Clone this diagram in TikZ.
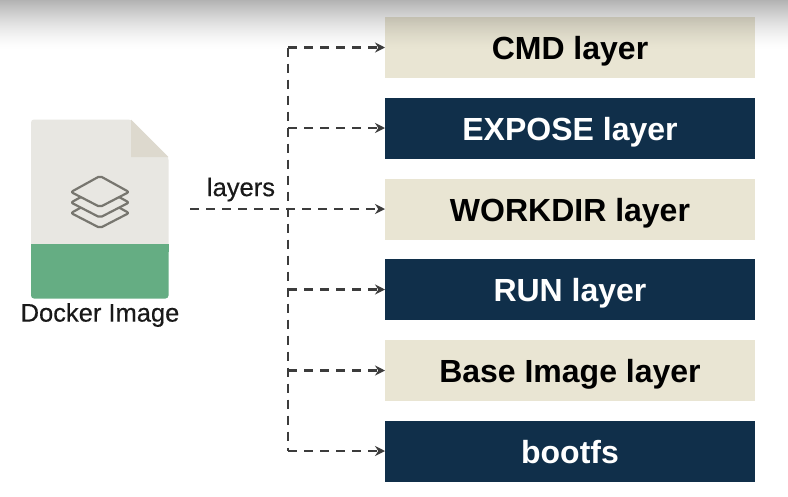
\documentclass[tikz,border=0pt]{standalone}
\usepackage{fontspec}
\setmainfont{Liberation Sans}
\newfontfamily\semibold[FakeBold=0.4]{Liberation Sans}
\usetikzlibrary{arrows.meta}
\definecolor{cream}{HTML}{E9E5D3}
\definecolor{navy}{HTML}{102F4A}
\definecolor{paper}{HTML}{E8E7E2}
\definecolor{foldc}{HTML}{DDD9CE}
\definecolor{greenc}{HTML}{65AD83}
\definecolor{linec}{HTML}{3C3C3C}
\definecolor{iconc}{HTML}{77766F}
\tikzset{
  x=1pt,y=-1pt,
  layerbox/.style={minimum width=370pt,minimum height=61pt,inner sep=0pt,outer sep=0pt,text height=24pt,text depth=0pt,font=\fontsize{32}{34}\selectfont\bfseries},
  lightbox/.style={layerbox,fill=cream,text=black},
  darkbox/.style={layerbox,fill=navy,text=white},
  conn/.style={draw=linec,line width=2.2pt,dash pattern=on 9pt off 7pt},
  connarrow/.style={conn,-{Stealth[length=10pt,width=10pt]}},
  iconline/.style={draw=iconc,line width=2.2pt,line join=round,fill=paper},
  lbl/.style={inner sep=0pt,text=black!90,font=\semibold\fontsize{25.5}{27}\selectfont}
}
\begin{document}
\begin{tikzpicture}
\useasboundingbox (0,0) rectangle (788,496);
\fill[white] (0,0) rectangle (788,496);
% layer boxes
\node[lightbox] (cmd) at (570,47.5) {CMD layer};
\node[darkbox] (expose) at (570,128) {EXPOSE layer};
\node[lightbox] (workdir) at (570,209) {WORKDIR layer};
\node[darkbox] (run) at (570,289.5) {RUN layer};
\node[lightbox] (base) at (570,370.5) {Base Image layer};
\node[darkbox] (bootfs) at (570,451) {bootfs};
% top shade
\foreach \k in {0,...,49}
  \fill[black,opacity={0.30*pow(1-\k/50,1.5)}] (0,\k) rectangle (788,\k+1.05);
% document icon
\fill[paper,rounded corners=3pt] (31,119.5) -- (131,119.5) -- (168.5,157) -- (168.5,250) -- (31,250) -- cycle;
\fill[foldc] (131,119.5) -- (168.5,157) -- (131,157) -- cycle;
\fill[greenc,rounded corners=3pt] (31,244) -- (168.5,244) -- (168.5,298.5) -- (31,298.5) -- cycle;
\fill[greenc] (31,244) rectangle (168.5,252);
% stack glyph
\foreach \dy in {21,10.5,0}
  \draw[iconline,rounded corners=2pt] (100,176+\dy) -- (129,192+\dy) -- (100,207+\dy) -- (71,192+\dy) -- cycle;
% labels
\node[lbl] (dockerlabel) at (100,315) {Docker Image};
\node[lbl] (layerslabel) at (241,189.5) {layers};
% connectors
\coordinate (source) at (190,209);
\coordinate (trunktop) at (288,47.5);
\coordinate (trunkbottom) at (288,451);
\coordinate (j2) at (288,128);
\coordinate (j4) at (288,289.5);
\coordinate (j5) at (288,370.5);
\draw[conn] (trunktop) -- (trunkbottom);
\draw[connarrow] (trunktop) -- (cmd.west);
\draw[connarrow] (j2) -- (expose.west);
\draw[connarrow] (source) -- (workdir.west);
\draw[connarrow] (j4) -- (run.west);
\draw[connarrow] (j5) -- (base.west);
\draw[connarrow] (trunkbottom) -- (bootfs.west);
\end{tikzpicture}
\end{document}
